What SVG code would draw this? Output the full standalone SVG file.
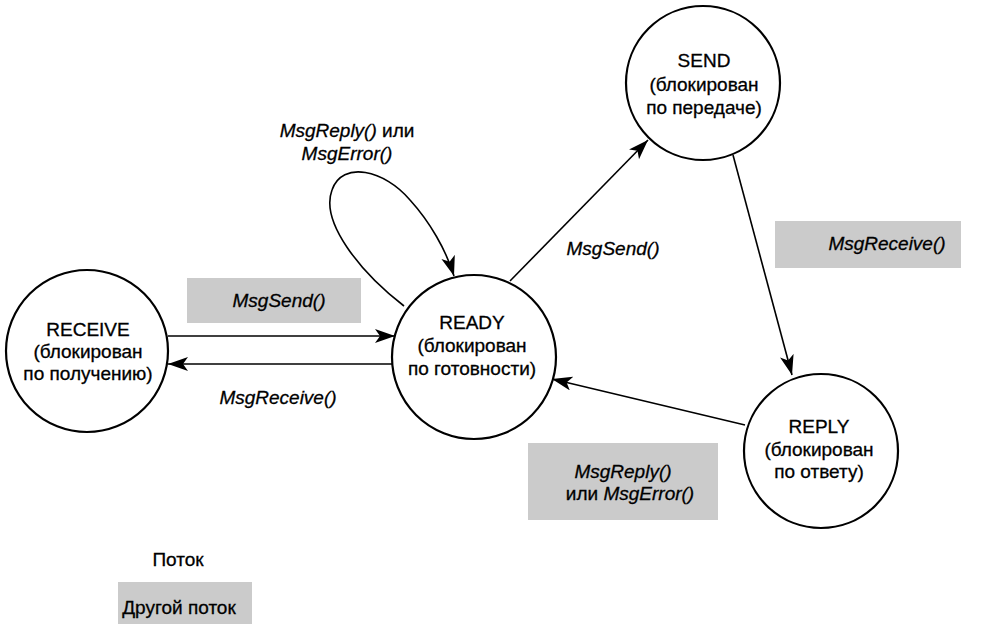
<svg xmlns="http://www.w3.org/2000/svg" width="984" height="624" viewBox="0 0 984 624">
  <style>
    .state { fill: #ffffff; stroke: #000000; stroke-width: 2.2; }
    .txt { font-family: "Liberation Sans", Arial, sans-serif; font-size: 19px; fill: #000000; stroke: #000000; stroke-width: 0.3; text-anchor: middle; }
    .it { font-style: italic; }
    .conn { fill: none; stroke: #000000; stroke-width: 1.6; }
    .shade { fill: #cbcbcb; }
  </style>
  <defs>
    <marker id="arrow" markerUnits="userSpaceOnUse" markerWidth="22" markerHeight="16" refX="20" refY="7" orient="auto">
      <path d="M0,0 L20,7 L0,14 L5,7 z" fill="#000000"/>
    </marker>
  </defs>

  <!-- shaded label backgrounds (messages sent by another thread) -->
  <g id="shading">
    <rect class="shade" x="187" y="278" width="174" height="45"/>
    <rect class="shade" x="775" y="221" width="186" height="47"/>
    <rect class="shade" x="528" y="443" width="190" height="77"/>
    <rect class="shade" x="118" y="582" width="134" height="42"/>
  </g>

  <!-- transitions -->
  <g id="connectors">
    <line class="conn" x1="168" y1="336" x2="395" y2="336" marker-end="url(#arrow)"/>
    <line class="conn" x1="392" y1="364" x2="168" y2="364" marker-end="url(#arrow)"/>
    <path class="conn" d="M404,306 C360,272 320,222 332,190 C342,160 385,170 410,200 C430,222 446,250 454,276" marker-end="url(#arrow)"/>
    <line class="conn" x1="510" y1="281" x2="648" y2="140" marker-end="url(#arrow)"/>
    <line class="conn" x1="733" y1="155" x2="792" y2="375" marker-end="url(#arrow)"/>
    <line class="conn" x1="745" y1="425" x2="552" y2="379" marker-end="url(#arrow)"/>
  </g>

  <!-- transition labels -->
  <g id="labels">
    <text class="txt it" x="279" y="307">MsgSend()</text>
    <text class="txt it" x="278" y="404">MsgReceive()</text>
    <text class="txt" x="347" y="137"><tspan class="it">MsgReply()</tspan> или</text>
    <text class="txt it" x="347" y="160">MsgError()</text>
    <text class="txt it" x="613" y="255">MsgSend()</text>
    <text class="txt it" x="887" y="250">MsgReceive()</text>
    <text class="txt it" x="623" y="478">MsgReply()</text>
    <text class="txt" x="630" y="500">или <tspan class="it">MsgError()</tspan></text>
  </g>

  <!-- states -->
  <g id="receive">
    <circle class="state" cx="87" cy="351" r="81"/>
    <text class="txt" x="88" y="336">RECEIVE</text>
    <text class="txt" x="88" y="358">(блокирован</text>
    <text class="txt" x="88" y="380">по получению)</text>
  </g>
  <g id="ready">
    <circle class="state" cx="474" cy="357" r="82"/>
    <text class="txt" x="472" y="329">READY</text>
    <text class="txt" x="472" y="352">(блокирован</text>
    <text class="txt" x="472" y="375">по готовности)</text>
  </g>
  <g id="send">
    <circle class="state" cx="703" cy="83" r="77"/>
    <text class="txt" x="704" y="67">SEND</text>
    <text class="txt" x="704" y="91">(блокирован</text>
    <text class="txt" x="704" y="114">по передаче)</text>
  </g>
  <g id="reply">
    <circle class="state" cx="821" cy="451" r="77"/>
    <text class="txt" x="819" y="433">REPLY</text>
    <text class="txt" x="819" y="456">(блокирован</text>
    <text class="txt" x="819" y="478">по ответу)</text>
  </g>

  <!-- legend -->
  <g id="legend">
    <text class="txt" x="178" y="566">Поток</text>
    <text class="txt" x="179" y="614">Другой поток</text>
  </g>
</svg>
